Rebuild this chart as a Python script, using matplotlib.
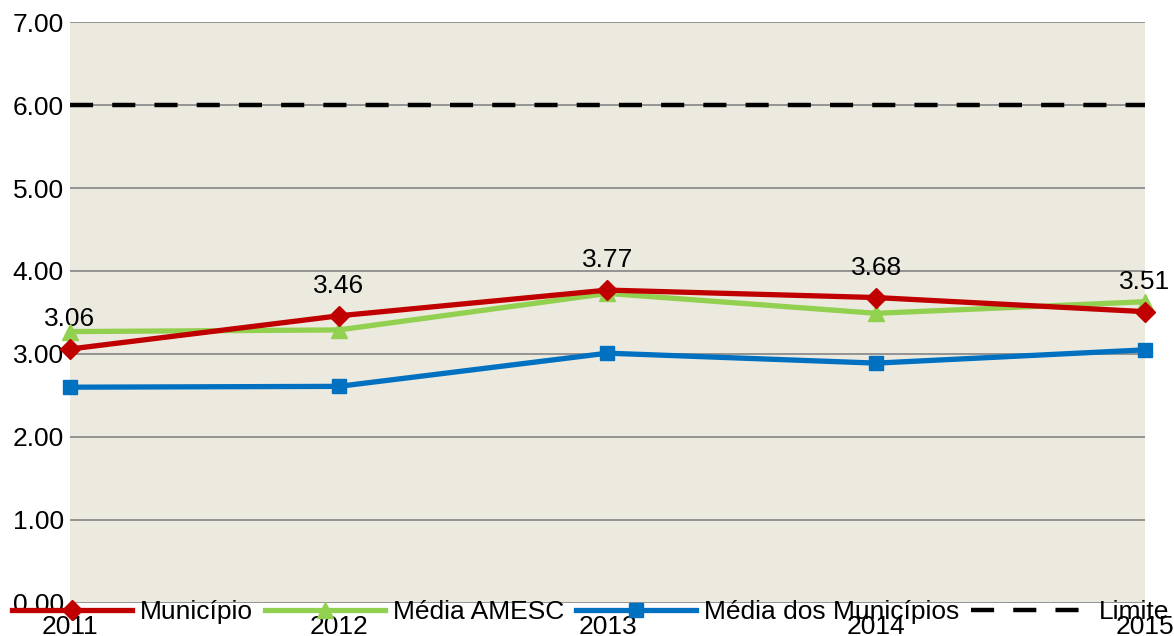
import numpy as np
import matplotlib.pyplot as plt

plt.rcParams["font.family"] = ["Liberation Sans", "DejaVu Sans"]

years = [2011, 2012, 2013, 2014, 2015]
municipio = [3.06, 3.46, 3.77, 3.68, 3.51]
media_amesc = [3.27, 3.29, 3.73, 3.49, 3.63]
media_municipios = [2.60, 2.61, 3.01, 2.89, 3.05]
limite = [6.00, 6.00, 6.00, 6.00, 6.00]
y_ticks = [0, 1, 2, 3, 4, 5, 6, 7]

fs = 19
fig = plt.figure(figsize=(11.74, 6.36), dpi=100)
ax = fig.add_axes([0.0596, 0.0519, 0.9157, 0.9135])
ax.set_facecolor("#ECE9DF")

for y in y_ticks:
    ax.axhline(y, color="#8C8C8C", lw=1.3, zorder=1)

ax.plot(years, limite, color="black", lw=3.2, dashes=(5.2, 4.3),
        label="Limite", zorder=2)
ax.plot(years, media_municipios, color="#0070C0", lw=3.8, marker="s",
        markersize=10, label="Média dos Municípios", zorder=3, clip_on=False)
ax.plot(years, media_amesc, color="#92D050", lw=3.8, marker="^",
        markersize=11, label="Média AMESC", zorder=4, clip_on=False)
ax.plot(years, municipio, color="#C00000", lw=3.8, marker="D",
        markersize=10, label="Município", zorder=5, clip_on=False)

for x, v in zip(years, municipio):
    ax.annotate(f"{v:.2f}", xy=(x, v), xytext=(0, 13), textcoords="offset points",
                ha="center", va="bottom", fontsize=fs, color="black")

ax.set_xlim(years[0], years[-1])
ax.set_ylim(0, 7)
ax.set_xticks(years)
ax.set_yticks(y_ticks)
ax.set_yticklabels([f"{v:.2f}" for v in y_ticks])
ax.tick_params(axis="both", length=0, labelsize=fs)
ax.tick_params(axis="x", pad=9)
ax.tick_params(axis="y", pad=4.5)
for s in ["top", "right", "left", "bottom"]:
    ax.spines[s].set_visible(False)

handles, labels = ax.get_legend_handles_labels()
order = [3, 2, 1, 0]
fig.legend([handles[i] for i in order], [labels[i] for i in order],
           loc="center", bbox_to_anchor=(0.503, 1 - 612 / 636), ncol=4,
           frameon=False, fontsize=fs, handlelength=4.55, handletextpad=0.3,
           columnspacing=0.45, borderpad=0, borderaxespad=0)

fig.savefig("out.png", dpi=100)
